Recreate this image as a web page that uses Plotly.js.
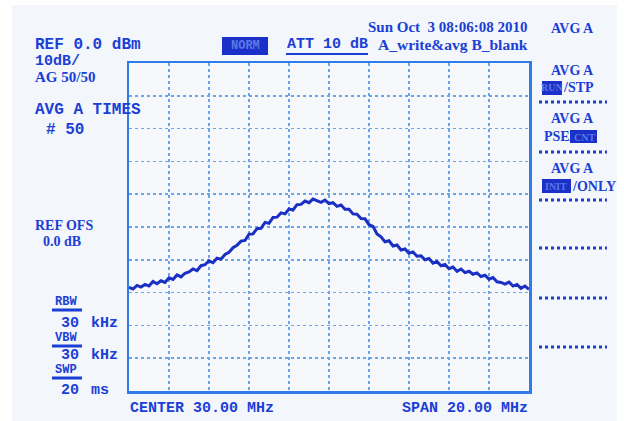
<!DOCTYPE html>
<html><head><meta charset="utf-8">
<script src="https://cdn.plot.ly/plotly-3.0.1.min.js"></script>
<style>html,body{margin:0;padding:0;background:#fff}#plot{width:624px;height:421px}</style>
</head><body><div id="plot"></div>
<script>
// Spectrum analyzer trace: frequency (MHz) and level (dBm)
const freqMHz = [20.0,20.2,20.4,20.6,20.8,21.0,21.2,21.4,21.6,21.8,22.0,22.2,22.4,22.6,22.8,23.0,23.2,23.4,23.6,23.8,
 24.0,24.2,24.4,24.6,24.8,25.0,25.2,25.4,25.6,25.8,26.0,26.2,26.4,26.6,26.8,27.0,27.2,27.4,27.6,27.8,
 28.0,28.2,28.4,28.6,28.8,29.0,29.2,29.4,29.6,29.8,30.0,30.2,30.4,30.6,30.8,31.0,31.2,31.4,31.6,31.8,
 32.0,32.2,32.4,32.6,32.8,33.0,33.2,33.4,33.6,33.8,34.0,34.2,34.4,34.6,34.8,35.0,35.2,35.4,35.6,35.8,
 36.0,36.2,36.4,36.6,36.8,37.0,37.2,37.4,37.6,37.8,38.0,38.2,38.4,38.6,38.8,39.0,39.2,39.4,39.6,39.8,40.0];
const levelDBm = [-68.4,-68.9,-67.8,-68.3,-67.5,-68.0,-66.6,-67.3,-66.4,-66.9,-65.5,-66.0,-64.6,-65.2,-64.1,-63.7,-62.8,-63.3,-61.8,-61.5,
 -60.3,-60.9,-59.5,-59.8,-58.4,-57.7,-56.3,-55.6,-54.3,-54.1,-52.2,-52.1,-50.5,-50.4,-48.6,-48.9,-47.1,-47.0,-45.7,-46.0,
 -44.5,-44.8,-43.2,-43.1,-42.1,-42.6,-41.5,-41.9,-42.5,-41.8,-42.9,-42.6,-43.7,-43.3,-44.6,-44.6,-46.0,-46.1,-47.4,-47.5,
 -49.3,-49.8,-52.1,-53.0,-54.5,-54.2,-55.8,-55.5,-57.0,-56.7,-58.0,-57.6,-58.9,-58.8,-60.0,-59.6,-61.0,-60.5,-61.8,-61.4,
 -62.7,-62.2,-63.5,-62.8,-63.9,-63.5,-64.4,-64.0,-65.1,-64.7,-65.9,-65.4,-66.7,-66.9,-67.4,-66.8,-68.0,-67.5,-68.7,-68.0,-69.0];
const xRange = [20, 40];
const yRange = [-100, 0];
const xStep = 2;
const yStep = 10;

const BLUE = '#1b3fd6';
const FILL = '#1a30c8';
const MONO = 'Liberation Mono, DejaVu Sans Mono, monospace';
const NARROW = 'Liberation Serif, DejaVu Serif, serif';

// plot area pixels
const L = 129, R = 529, T = 63, B = 391;
const px = x => (x - L) / (R - L);
const py = y => (B - y) / (B - T);

function txt(text, x, y, opts) {
  opts = opts || {};
  return {text: text, xref: 'paper', yref: 'paper', x: px(x), y: py(y),
    xanchor: opts.xa || 'left', yanchor: 'middle', showarrow: false,
    font: {family: opts.family || MONO, size: opts.size || 15, color: opts.color || BLUE, weight: 'bold'}};
}
function box(x0, y0, x1, y1) {
  return {type: 'rect', xref: 'paper', yref: 'paper', x0: px(x0), x1: px(x1), y0: py(y1), y1: py(y0),
    fillcolor: FILL, line: {width: 0}, layer: 'above'};
}
function sheet(x0, y0, x1, y1) {
  return {type: 'rect', xref: 'paper', yref: 'paper', x0: px(x0), x1: px(x1), y0: py(y1), y1: py(y0),
    fillcolor: '#ffffff', line: {width: 0}, layer: 'below'};
}
function hline(x0, x1, y, w, dash) {
  return {type: 'line', xref: 'paper', yref: 'paper', x0: px(x0), x1: px(x1), y0: py(y), y1: py(y),
    line: {color: BLUE, width: w, dash: dash || 'solid'}};
}

const annotations = [
  txt('REF 0.0 dBm', 33, 45, {size: 16}),
  txt('10dB/', 33, 61, {size: 15}),
  txt('AG 50/50', 33, 77, {size: 15, family: NARROW}),
  txt('AVG A TIMES', 33, 110, {size: 16}),
  txt('# 50', 44, 130, {size: 16}),
  txt('REF OFS', 33, 225, {size: 14, family: NARROW}),
  txt('0.0 dB', 41, 241, {size: 14, family: NARROW}),
  txt('RBW', 53, 302, {size: 12}),
  txt('30', 81, 323, {size: 15, xa: 'right'}),
  txt('kHz', 89, 323, {size: 15}),
  txt('VBW', 53, 338, {size: 12}),
  txt('30', 81, 355, {size: 15, xa: 'right'}),
  txt('kHz', 89, 355, {size: 15}),
  txt('SWP', 53, 370, {size: 12}),
  txt('20', 81, 390, {size: 15, xa: 'right'}),
  txt('ms', 89, 390, {size: 15}),
  txt('CENTER 30.00 MHz', 128, 408, {size: 15}),
  txt('SPAN 20.00 MHz', 530, 408, {size: 15, xa: 'right'}),
  txt('NORM', 245, 46, {size: 12, xa: 'center', color: '#5e78e6'}),
  txt('ATT 10 dB', 285, 45, {size: 15}),
  txt('Sun Oct  3 08:06:08 2010', 530, 27, {size: 15, xa: 'right', family: NARROW}),
  txt('A_write&avg B_blank', 530, 45, {size: 15.5, xa: 'right', family: NARROW}),
  txt('AVG A', 572, 28, {size: 14, xa: 'center', family: NARROW}),
  txt('AVG A', 572, 70, {size: 14, xa: 'center', family: NARROW}),
  txt('RUN', 552, 88, {size: 10, xa: 'center', family: NARROW, color: '#5e78e6'}),
  txt('/STP', 561, 88, {size: 14, family: NARROW}),
  txt('AVG A', 572, 118, {size: 14, xa: 'center', family: NARROW}),
  txt('PSE/', 542, 136, {size: 14, family: NARROW}),
  txt('CNT', 584, 137, {size: 10, xa: 'center', family: NARROW, color: '#5e78e6'}),
  txt('AVG A', 572, 168, {size: 14, xa: 'center', family: NARROW}),
  txt('INIT', 556, 186, {size: 10, xa: 'center', family: NARROW, color: '#5e78e6'}),
  txt('/ONLY', 570, 186, {size: 14, family: NARROW})
];

const shapes = [
  sheet(0, 0, 624, 5),
  sheet(0, 0, 12, 421),
  sheet(617, 0, 624, 421),
  box(222, 37, 268, 55),
  box(542, 81, 562, 95),
  box(570, 130, 597, 143),
  box(542, 179, 571, 193),
  hline(286, 368, 54, 2),
  hline(52, 82, 310, 3),
  hline(52, 82, 346, 3),
  hline(52, 82, 378, 3),
  hline(539, 607, 102, 3, 'dot'),
  hline(539, 607, 152, 3, 'dot'),
  hline(539, 607, 200, 3, 'dot'),
  hline(539, 607, 248, 3, 'dot'),
  hline(539, 607, 298, 3, 'dot'),
  hline(539, 607, 347, 3, 'dot')
];

const trace = {x: freqMHz, y: levelDBm, type: 'scatter', mode: 'lines',
  line: {color: '#1a2fc4', width: 3}, hoverinfo: 'skip'};

const axisCommon = {showgrid: true, gridcolor: '#6aa6ea', griddash: 'dot', gridwidth: 1.6,
  zeroline: false, showticklabels: false, ticks: '', showline: true, mirror: true,
  linecolor: '#2f7ce6', linewidth: 2.5, fixedrange: true};

const layout = {
  width: 624, height: 421,
  margin: {l: L, r: 624 - R, t: T, b: 421 - B, pad: 0},
  paper_bgcolor: '#f3f6fa', plot_bgcolor: '#f6f8fb',
  showlegend: false,
  xaxis: Object.assign({range: xRange, dtick: xStep, tick0: 20}, axisCommon),
  yaxis: Object.assign({range: yRange, dtick: yStep, tick0: -100}, axisCommon),
  annotations: annotations,
  shapes: shapes
};

Plotly.newPlot('plot', [trace], layout, {staticPlot: true, displayModeBar: false});
</script></body></html>
